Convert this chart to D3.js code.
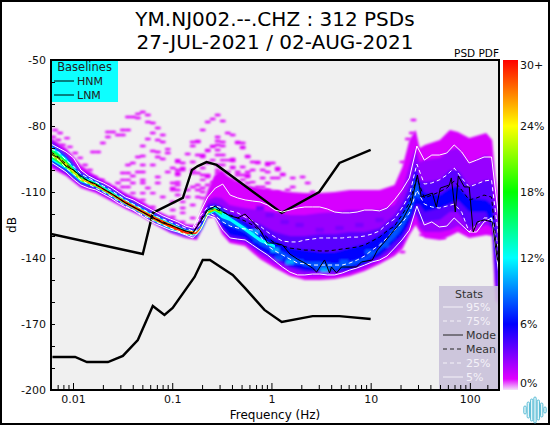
<!DOCTYPE html>
<html><head><meta charset="utf-8"><script src="https://cdn.jsdelivr.net/npm/d3@7"></script>
<style>html,body{margin:0;padding:0;background:#fff}svg{display:block}text{font-family:"DejaVu Sans",sans-serif}</style></head>
<body><svg id="c" width="550" height="425"></svg>
<script>
const titleLines=["YM.NJ002.--.CHZ : 312 PSDs","27-JUL-2021 / 02-AUG-2021"];
const yTickValues=[-50,-60,-70,-80,-90,-100,-110,-120,-130,-140,-150,-160,-170,-180,-190,-200];
const yTickLabelled=[-50,-80,-110,-140,-170,-200];
const xMajor=[0.01,0.1,1,10,100];
const xMinor=[0.006,0.007,0.008,0.009,0.02,0.03,0.04,0.05,0.06,0.07,0.08,0.09,0.2,0.3,0.4,0.5,0.6,0.7,0.8,0.9,2,3,4,5,6,7,8,9,20,30,40,50,60,70,80,90,150];
const colorTicks=[[30,"30+"],[24,"24%"],[18,"18%"],[12,"12%"],[6,"6%"],[0,"0%"]];
const colorStopPct=[0,1,6,12,18,24,30];
const colorStopCol=["#f4e4fa","#e000ff","#0000ff","#00ffff","#00ff00","#ffff00","#ff0000"];

const hnmFreq=[0.006,0.0505,0.0637,0.128,0.158,0.181,0.222,0.28,1.27,3.03,4.85,10];
const hnmDb=[-129.1,-138.2,-119.5,-112.7,-100,-98.2,-96.4,-97.7,-119.5,-110,-96.8,-90.9];
const lnmFreq=[0.0062,0.0105,0.0138,0.0225,0.0318,0.045,0.0637,0.0835,0.101,0.168,0.203,0.24,0.407,0.54,0.85,1.27,2.6,4.85,10];
const lnmDb=[-185,-185,-187.3,-187.3,-184.5,-177.3,-161.8,-165.9,-162.7,-148.6,-140.9,-140.9,-147.7,-153.6,-163.6,-169.1,-166.4,-166.4,-167.7];

const freqs=[0.006,0.00714,0.00849,0.0101,0.012,0.0143,0.017,0.0202,0.024,0.0285,0.0339,0.0404,0.048,0.0571,0.0679,0.0807,0.096,0.114,0.136,0.161,0.192,0.228,0.272,0.323,0.384,0.457,0.543,0.646,0.768,0.913,1.086,1.292,1.536,1.827,2.172,2.583,3.072,3.653,4.345,5.167,6.144,7.307,8.689,10.33,12.29,14.61,17.38,20.67,24.58,29.23,34.76,41.34,49.15,58.46,69.51,82.67,98.3,116.9,139,165.3,196.6];
const p95=[-88.2,-90,-91.8,-94.5,-100,-102.7,-104.5,-105.9,-107.7,-110,-112.3,-113.6,-115.5,-117.3,-119.1,-120.9,-122.3,-123.6,-125.5,-126.4,-119.1,-112.3,-108.2,-106.4,-111.4,-112.7,-113.6,-114.1,-114.5,-115.9,-118.2,-119.1,-118.2,-117.3,-116.8,-116.8,-116.8,-117.7,-119.1,-119.5,-119.5,-119.1,-118.2,-118.2,-118.6,-117.3,-113.6,-109.1,-103.6,-89.1,-95.5,-93.2,-93.2,-92.3,-88.6,-91.8,-96.8,-95.5,-94.1,-94.1,-122.7];
const p75=[-90.5,-91.8,-95.5,-98.2,-101.8,-103.6,-105.5,-107.3,-109.1,-111.4,-113.6,-115.5,-117.3,-119.1,-120.9,-122.3,-123.6,-125,-126.4,-127.7,-120.9,-116.8,-116.4,-117.3,-118.6,-119.5,-121.4,-123.2,-125.5,-128.2,-130.5,-132.3,-132.7,-132.7,-131.8,-131.4,-130.9,-130.9,-130.9,-130.9,-130.5,-130.5,-130,-129.1,-127.7,-124.5,-122.3,-117.3,-111.4,-97.3,-106.4,-105.9,-104.5,-102.3,-99.1,-103.6,-107.7,-106.4,-105,-104.5,-131.8];
const meanDb=[-91.8,-94.1,-97.3,-100,-103.2,-105,-106.8,-108.6,-110.5,-112.7,-115,-116.8,-118.6,-120.5,-122.3,-123.6,-125,-126.4,-127.7,-129.1,-122.7,-117.7,-117.7,-119.1,-120.5,-121.8,-123.2,-125,-127.7,-130.9,-133.2,-134.5,-135.5,-135.9,-136.4,-136.4,-136.8,-136.8,-136.4,-135.9,-135.5,-135,-134.1,-132.3,-130.5,-127.7,-125.5,-120.5,-115,-103.6,-112.7,-111.4,-110,-108.2,-105,-109.1,-113.6,-112.7,-111.4,-112.3,-145.5];
const p25=[-93.6,-95.5,-99.1,-101.8,-104.5,-106.4,-108.2,-110,-111.8,-114.1,-116.4,-118.2,-120,-121.8,-123.6,-125,-126.4,-127.7,-129.1,-130,-124.5,-119.1,-120.9,-123.6,-125.5,-126.4,-126.8,-127.3,-130,-134.5,-136.8,-138.6,-140.5,-142.3,-142.7,-143.2,-143.2,-143.2,-143.2,-143.2,-142.3,-140.9,-139.1,-136.4,-134.1,-130.9,-127.3,-124.1,-119.5,-109.1,-115.5,-116.8,-117.3,-116.4,-115.5,-119.1,-128.2,-125,-121.8,-121.8,-136.4];
const p5=[-96.4,-98.6,-100.9,-104.1,-106.8,-108.2,-109.1,-110.9,-112.7,-115,-116.8,-118.2,-120.5,-122.7,-124.5,-125.9,-127.3,-128.2,-129.5,-130.9,-127.3,-120.5,-121.8,-127.3,-130.9,-131.4,-131.8,-134.1,-136.4,-138.6,-141.4,-144.1,-146.4,-147.7,-147.7,-147.3,-147.3,-147.7,-147.7,-146.8,-145.5,-144.5,-143.2,-141.8,-140.9,-139.1,-135.5,-131.8,-127.3,-116.4,-125,-123.6,-125.9,-125.5,-121.8,-125,-128.2,-128.2,-123.6,-121.8,-147.7];
const modeFreq=[0.006,0.00714,0.00849,0.0101,0.012,0.0143,0.017,0.0202,0.024,0.0285,0.0339,0.0404,0.048,0.0571,0.0679,0.0807,0.096,0.114,0.136,0.161,0.192,0.228,0.272,0.323,0.384,0.457,0.543,0.646,0.768,0.913,1.086,1.292,1.536,1.827,2.172,2.583,2.85,3.43,3.85,4.03,4.53,5.08,7.2,8.08,10.4,11.7,13.8,20.9,25.7,29.6,32.4,41.9,45.9,50.4,62.1,65,71.3,76.4,87.9,98.6,108,118.6,139.6,168,189];
const modeDb=[-92.7,-94.5,-98.2,-100,-102.7,-105,-106.4,-108.6,-110.5,-112.7,-115,-116.8,-118.6,-120.5,-122.3,-124.1,-125,-126.4,-127.7,-128.6,-123.6,-118.2,-116.4,-119.1,-120.9,-121.8,-120,-123.6,-127.3,-133.2,-133.2,-134.1,-138.2,-140.5,-142.3,-144.5,-146.4,-140.9,-146.8,-144.1,-146.8,-144.1,-144.1,-141.8,-140.9,-136.4,-132.7,-122.7,-115,-102.3,-112.3,-110.5,-116.8,-108.2,-106.8,-103.6,-119.1,-102.7,-107.7,-107.7,-128.2,-123.6,-122.7,-123.6,-140.9];

// PDF contours: upper and lower dB of the region at or above each probability level
const contourFreq=[0.006,0.0085,0.012,0.017,0.024,0.034,0.048,0.068,0.096,0.136,0.177,0.203,0.228,0.268,0.316,0.38,0.54,0.768,1.086,1.54,2.17,3.07,4.35,6.14,8.69,12.3,17.4,20.9,24.6,28.4,31.2,35.1,49.8,62.9,75.7,98.6,146,168,180,194];
const contourPct=[1.2,2.6,4,6,8,12,16,21,25,29];
const c1Top=[-85.5,-90,-97.7,-102.7,-106.4,-110.5,-113.6,-118.2,-121.4,-124.5,-125,-115.9,-109.1,-102.3,-100,-103.6,-106.8,-108.2,-109.1,-110,-110.5,-110.5,-110,-109.1,-109.1,-109.1,-106.8,-98.6,-86.4,-81.8,-90,-88.6,-86.4,-81.8,-82.7,-85.5,-83.2,-86.4,-102.3,-113.6];
const c1Bot=[-99.1,-102.7,-108.2,-110.5,-114.1,-117.7,-120.9,-125,-128.6,-130.9,-131.8,-126.4,-121.8,-121.4,-129.1,-133.2,-134.5,-140.5,-144.5,-148.2,-150,-150,-149.5,-148.2,-145.9,-142.7,-139.1,-135.9,-129.5,-125,-128.2,-130.9,-131.8,-130,-128.2,-130.9,-129.5,-130,-159.1,-161.4];
const c2Top=[-85.9,-91.8,-100,-103.6,-107.7,-111.4,-115.5,-119.1,-122.3,-125.5,-126.4,-119.5,-113.6,-112.3,-112.7,-115.9,-117.3,-118.2,-119.1,-120.5,-120.5,-119.5,-119.1,-118.2,-118.2,-118.2,-115.9,-109.1,-97.7,-90,-96.4,-95.5,-94.5,-90.9,-90,-96.8,-93.2,-95.5,-111.4,-118.2];
const c2Bot=[-97.7,-101.8,-107.3,-109.5,-113.2,-116.8,-120.5,-124.5,-128.2,-130.5,-130.9,-126.4,-121.4,-120.9,-127.3,-131.8,-133.2,-138.6,-142.7,-146.4,-148.2,-148.2,-148.2,-146.8,-144.5,-141.4,-137.3,-134.1,-126.8,-120.5,-126.4,-128.2,-128.2,-127.3,-125.5,-128.2,-125,-126.4,-154.5,-159.1];
const c3Top=[-87.3,-92.7,-100.9,-104.1,-108.2,-112.3,-115.9,-119.5,-122.7,-125.9,-126.8,-120.9,-115.5,-115,-116.4,-119.1,-121.8,-124.5,-128.2,-130,-130,-129.1,-129.1,-128.2,-128.2,-126.4,-120.5,-115,-106.8,-95.5,-104.5,-105.5,-104.5,-100,-100,-107.3,-104.5,-104.5,-120.5,-127.3];
const c3Bot=[-97.3,-101.4,-106.8,-109.1,-112.7,-116.4,-120,-124.1,-127.7,-130,-130.5,-126.4,-120.9,-120.5,-125.9,-130.9,-132.3,-137.3,-140.9,-144.5,-146.4,-146.4,-146.4,-145.5,-143.2,-140,-135.5,-131.8,-125.5,-119.1,-123.6,-123.6,-122.7,-119.1,-119.1,-126.4,-122.7,-122.7,-150,-159.1];
const c4Top=[-87.7,-93.2,-101.4,-104.5,-108.6,-112.7,-116.4,-120,-123.2,-126.4,-127.3,-122.7,-116.8,-115.9,-117.3,-120.5,-123.6,-128.2,-131.8,-135.5,-136.4,-137.3,-137.3,-135.5,-133.6,-129.5,-124.5,-118.2,-111.4,-100,-106.8,-110.5,-111.4,-108.2,-107.3,-112.7,-113.6,-115.9,-129.5];
const c4Bot=[-96.8,-100.9,-106.4,-108.6,-112.3,-116.4,-120,-124.1,-127.7,-130,-130.5,-126.4,-120.9,-120,-125.5,-129.5,-130.9,-136.4,-140,-143.6,-145.5,-146.4,-146.4,-145.5,-142.7,-139.1,-132.7,-129.5,-123.6,-115.9,-115.9,-119.1,-117.3,-115.5,-113.6,-119.1,-119.1,-127.3,-145.5];
const c5Top=[-88.2,-93.6,-101.8,-105,-109.1,-113.2,-116.8,-120.5,-123.6,-126.8,-127.7,-124.1,-117.7,-116.4,-118.2,-120.9,-125.5,-130.9,-135.5,-139.1,-141.8,-141.8,-142.7,-141.8,-140,-135.5,-127.3,-120.5,-115,-103.6,-110];
const c5Bot=[-96.4,-100.5,-105.9,-108.2,-111.8,-115.9,-119.5,-123.6,-127.3,-130,-130,-125.9,-120.9,-119.5,-123.6,-125.5,-128.2,-134.1,-137.3,-140.9,-143.6,-144.5,-145.5,-143.6,-141.4,-136.8,-130.9,-126.4,-120.5,-111.4,-113.6];
const c6Top=[-89.1,-94.5,-102.7,-105.5,-109.5,-113.6,-117.3,-120.9,-124.1,-127.3,-127.7,-124.5,-118.2,-116.8,-118.6,-121.4,-125.9,-130.9,-134.1];
const c6Bot=[-95.5,-99.5,-105.5,-107.7,-111.8,-115.9,-119.5,-123.6,-126.8,-129.5,-129.5,-125.9,-120.5,-119.1,-121.8,-123.2,-127.7,-132.7,-135.5];
const c7Top=[-90,-95.5,-103.2,-105.9,-110,-114.1,-117.7,-121.4,-124.5,-127.7,-128.2,-125,-118.6,-117.3,-119.1];
const c7Bot=[-94.5,-99.1,-105,-107.7,-111.4,-115.5,-119.1,-123.2,-126.4,-129.1,-129.1,-125.5,-120,-118.6,-120.5];
const c8Top=[-91.4,-96.4,-103.6,-106.4,-110.2,-114.3,-118,-121.6,-124.8,-127.7,-128.2,-125,-118.9,-117.5,-119.3];
const c8Bot=[-93.6,-98.6,-105,-107.5,-111.4,-115.5,-119.1,-123,-126.1,-129.1,-129.1,-125.5,-119.8,-118.4,-119.8];
const c9Top=[-92.3,-97,-104.1,-106.4,-110.3,-114.1,-117.7,-121.4,-124.6,-127.5,-128,-125,-119.1,-117.7];
const c9Bot=[-92.7,-97.7,-104.5,-107.4,-111.3,-115.6,-119.3,-123.2,-126.3,-129.3,-129.2,-125.2,-119.5,-118.2];
const c10Top=[-92.5,-97.3,-104.3,-106.7,-110.5,-114.2,-117.9,-121.5,-124.7,-127.7,-128.2,-125,-119.2,-117.9];
const c10Bot=[-92.5,-97.3,-104.3,-107,-111.1,-115.5,-119.1,-123,-126.2,-129.1,-129.1,-125.1,-119.4,-118.1];

// isolated low-probability PDF cells: frequency, then the dB bins occupied at that frequency
const speckleFreq=[0.0063,0.0066,0.0071,0.0074,0.0079,0.0087,0.0093,0.0105,0.0118,0.0132,0.0148,0.0166,0.0159,0.0179,0.0196,0.02,0.022,0.0225,0.0253,0.0284,0.0318,0.0358,0.0401,0.0451,0.0505,0.0568,0.0637,0.0715,0.0803,0.0902,0.1012,0.1136,0.1276,0.1432,0.161,0.181,0.203,0.228,0.256,0.287,0.323,0.363,0.407,0.457,0.513,0.576,0.647,0.727,0.816,0.917,1.03,1.156,1.3,1.46,1.64,2.06,2.32,2.6,20.9,23.7,26,27,33,54];
const speckleDb=[[-85],[-81.8],[-86.4],[-83.2],[-88.6],[-85.5],[-89.5],[-92.3],[-94.5],[-97.7],[-100],[-103.2],[-91.8],[-91.8],[-104.5],[-87.7],[-106.8],[-85,-82.7],[-109.1,-108.2,-82.7],[-84.1,-105.9,-110],[-81.8,-84.1,-101.4,-104.5,-107.7],[-75.9,-81.8,-97.7,-101.4,-104.5,-107.7,-113.6],[-75.9,-96.8,-102.7,-105.9,-110.5],[-74.5,-76.4,-94.1,-100.9],[-73.6,-89.1,-93.6,-97.7,-100.9,-104.5,-105.9,-110.5,-113.6],[-75,-78.2,-85.9,-108.2],[-78.6,-83.2,-91.4,-97.7,-110.5,-116.8],[-80.9,-86.4,-91.8,-94.1,-103.2,-105.9],[-84.1,-87.3,-95,-112.3],[-90.5,-92.3,-100.9],[-99.1,-105.9,-108.2,-109.1,-114.5,-118.2,-121.4],[-95.5,-96.4,-100,-101.4,-102.3,-105.5,-106.8,-109.1,-111.4],[-96.8,-99.1,-100,-114.5,-117.3,-119.5,-123.6],[-92.7,-109.1,-112.3],[-87.3,-89.1,-96.4,-100,-101.4,-107.7,-115.9,-121.8],[-86.8,-87.3,-93.2,-101.4,-106.8,-109.1,-112.3],[-81.8,-93.2,-94.1,-99.1,-102.3,-104.5,-108.2,-110,-112.7],[-78.2,-90.9,-91.4,-96.8,-102.3,-103.2,-106.8],[-76.8,-89.1,-89.5,-95.5,-105.5],[-75,-85,-86.8,-88.6,-90.9,-93.2,-97.7,-100,-101.4,-104.1,-107.7],[-77.7,-87.3,-89.1,-93.2,-95.5,-97.7],[-83.2,-95.5,-100.9,-104.1,-105.9],[-84.1,-95,-95.9,-98.6,-99.1,-104.5,-108.2],[-87.3,-87.7,-100.9,-102.3,-105.9],[-87.7,-89.5,-90,-98.6,-102.3,-104.5,-107.7],[-93.6,-94.1,-100.9,-102.3,-103.2,-105.9,-109.1,-110,-111.4],[-96.4,-100,-105.5],[-96.4,-96.8,-107.7],[-100,-103.6,-107.7],[-96.8,-97.7,-100.9,-105.9,-109.1,-111.4],[-96.8,-103.6],[-99.1,-100,-103.6,-110,-110.5,-112.3],[-101.8,-102.3],[-109.1],[-103.6,-107.7],[-103.2],[-105.9],[-110],[-96.4,-137.3],[-85.9],[-83.2],[-77.3],[-129.5],[-130.9]];
// mottling inside the main body of the PDF
const mottleFreq=[1.92,3.07,4.85,7.7,1.36,12.3,0.96,0.768,1.92,3.07,5.4,9.7,13.8,17.4,0.727,1.2,0.68,1.086,1.54,3.43];
const mottleDb=[-125,-127.3,-126.4,-125,-123.6,-122.7,-120.5,-117.3,-141.8,-144.5,-141.8,-137.3,-134.1,-128.2,-131.8,-140,-128.2,-136.4,-141.8,-145.5];
const mottlePct=[3.3,3.3,3.3,3.3,3.3,3.3,3.3,3.3,8,8,8,8,8,8,8,8,10,10,10,10];

const statsLabels=["95%","75%","Mode","Mean","25%","5%"];
const legendLabels=["HNM","LNM"];
const logoHalfHeights=[4,8,11,13,10,7,3];

const W=550,H=425,L=51,R=499,T=60,B=390;
const x=d3.scaleLog().domain([0.006,196.6]).range([L,R]);
const y=d3.scaleLinear().domain([-50,-200]).range([T,B]);
const col=d3.scaleLinear().domain(colorStopPct).range(colorStopCol).clamp(true);
const cy=d3.scaleLinear().domain([0,30]).range([B,T]);
const svg=d3.select("#c");
svg.append("rect").attr("x",1).attr("y",1).attr("width",W-2).attr("height",H-2).attr("fill","#fff").attr("stroke","#000").attr("stroke-width",2);

const defs=svg.append("defs");
defs.append("clipPath").attr("id","plot").append("rect").attr("x",L).attr("y",T).attr("width",R-L).attr("height",B-T);
[["b0",0.9],["b1",0.85],["b2",0.45]].forEach(([id,s])=>defs.append("filter").attr("id",id).attr("filterUnits","userSpaceOnUse").attr("x",0).attr("y",0).attr("width",W).attr("height",H).append("feGaussianBlur").attr("stdDeviation",s));
const grad=defs.append("linearGradient").attr("id","cb").attr("x1",0).attr("x2",0).attr("y1",1).attr("y2",0);
colorStopPct.forEach((p,i)=>grad.append("stop").attr("offset",p/30).attr("stop-color",colorStopCol[i]));

svg.append("rect").attr("x",L).attr("y",T).attr("width",R-L).attr("height",B-T).attr("fill","#f0f0f0");
const plot=svg.append("g").attr("clip-path","url(#plot)");

const area=d3.area().x(d=>x(d[0])).y0(d=>y(d[2])).y1(d=>y(d[1]));
const contours=[[c1Top,c1Bot],[c2Top,c2Bot],[c3Top,c3Bot],[c4Top,c4Bot],[c5Top,c5Bot],[c6Top,c6Bot],[c7Top,c7Bot],[c8Top,c8Bot],[c9Top,c9Bot],[c10Top,c10Bot]];
const speckles=speckleFreq.flatMap((f,i)=>speckleDb[i].map(d=>[f,d]));
plot.append("g").attr("filter","url(#b0)").selectAll("rect").data(speckles).join("rect")
  .attr("x",d=>x(d[0]/1.07)).attr("width",d=>x(d[0]*1.07)-x(d[0]/1.07)).attr("y",d=>y(d[1]+0.55)).attr("height",d=>y(d[1]-0.55)-y(d[1]+0.55)).attr("rx",1).attr("fill",col(1));
const lowG=plot.append("g").attr("filter","url(#b1)");
contours.slice(0,5).forEach(([t,b],i)=>lowG.append("path").attr("d",area(d3.zip(contourFreq.slice(0,t.length),t,b))).attr("fill",col(contourPct[i])));
lowG.selectAll("rect").data(d3.zip(mottleFreq,mottleDb,mottlePct)).join("rect")
  .attr("x",d=>x(d[0]/1.1)).attr("width",d=>x(d[0]*1.1)-x(d[0]/1.1)).attr("y",d=>y(d[1]+1)).attr("height",d=>y(d[1]-1)-y(d[1]+1)).attr("fill",d=>col(d[2]));
const hiG=plot.append("g").attr("filter","url(#b2)");
contours.slice(5).forEach(([t,b],i)=>hiG.append("path").attr("d",area(d3.zip(contourFreq.slice(0,t.length),t,b))).attr("fill",col(contourPct[i+5])));

const line=d3.line().x(d=>x(d[0])).y(d=>y(d[1]));
[[hnmFreq,hnmDb],[lnmFreq,lnmDb]].forEach(([f,d])=>plot.append("path").attr("d",line(d3.zip(f,d))).attr("fill","none").attr("stroke","#000").attr("stroke-width",2.4));
[[p95,"#fff",null],[p75,"#fff","4,3"],[p25,"#fff","4,3"],[p5,"#fff",null],[meanDb,"#000","4,3"]].forEach(([d,c,da])=>
  plot.append("path").attr("d",line(d3.zip(freqs,d))).attr("fill","none").attr("stroke",c).attr("stroke-width",1).attr("stroke-dasharray",da));
plot.append("path").attr("d",line(d3.zip(modeFreq,modeDb))).attr("fill","none").attr("stroke","#000").attr("stroke-width",1);

// Baselines legend
const lg=svg.append("g");
lg.append("rect").attr("x",L).attr("y",T+1).attr("width",67).attr("height",41).attr("fill","#00ffff").attr("fill-opacity",0.95);
lg.append("text").attr("x",L+33.5).attr("y",T+11).attr("text-anchor","middle").attr("font-size",11.5).attr("fill","#222").text("Baselines");
legendLabels.forEach((t,i)=>{const yy=T+21+i*14;
  lg.append("line").attr("x1",54).attr("x2",74).attr("y1",yy).attr("y2",yy).attr("stroke","#000").attr("stroke-width",1);
  lg.append("text").attr("x",77).attr("y",yy+4).attr("font-size",11).attr("fill","#222").text(t);});

// Stats legend
const sg=svg.append("g");
sg.append("rect").attr("x",439).attr("y",286).attr("width",60).attr("height",104).attr("fill","#c9c1d9").attr("fill-opacity",0.9);
sg.append("text").attr("x",469).attr("y",298).attr("text-anchor","middle").attr("font-size",11).attr("fill","#333").text("Stats");
const statCol=["#f4f1f8","#f4f1f8","#222","#222","#f4f1f8","#f4f1f8"],statDash=[null,"4,3",null,"4,3","4,3",null];
statsLabels.forEach((t,i)=>{const yy=307+i*14;
  sg.append("line").attr("x1",443).attr("x2",463).attr("y1",yy).attr("y2",yy).attr("stroke",statCol[i]).attr("stroke-width",1).attr("stroke-dasharray",statDash[i]);
  sg.append("text").attr("x",466).attr("y",yy+4).attr("font-size",11).attr("fill",statCol[i]==="#222"?"#333":"#f4f1f8").text(t);});

// Axes
const ax=svg.append("g");
const yAx=d3.axisLeft(y).tickValues(yTickValues).tickSize(-4).tickPadding(5).tickFormat(d=>yTickLabelled.includes(d)?d:"");
ax.append("g").attr("transform",`translate(${L},0)`).call(yAx);
const xMin=d3.axisBottom(x).tickValues(xMinor).tickSize(-5).tickFormat("");
ax.append("g").attr("transform",`translate(0,${B})`).call(xMin);
const xMaj=d3.axisBottom(x).tickValues(xMajor).tickSize(-7).tickPadding(5).tickFormat(d=>String(d));
ax.append("g").attr("transform",`translate(0,${B})`).call(xMaj);
ax.selectAll(".domain").remove();
ax.selectAll("text").attr("font-size",11).attr("font-family","DejaVu Sans").attr("fill","#111");
ax.selectAll("line").attr("stroke","#000");
svg.append("rect").attr("x",L).attr("y",T).attr("width",R-L).attr("height",B-T).attr("fill","none").attr("stroke","#000").attr("stroke-width",2);

// Titles
titleLines.forEach((t,i)=>svg.append("text").attr("x",275).attr("y",26+i*22.5).attr("text-anchor","middle").attr("font-size",20).attr("fill","#000").text(t));
svg.append("text").attr("x",499).attr("y",57).attr("text-anchor","end").attr("font-size",10.5).attr("fill","#000").text("PSD PDF");
svg.append("text").attr("x",275).attr("y",419).attr("text-anchor","middle").attr("font-size",12).text("Frequency (Hz)");
svg.append("text").attr("transform","translate(16,225) rotate(-90)").attr("text-anchor","middle").attr("font-size",12).text("dB");

// Colour bar
svg.append("rect").attr("x",503).attr("y",T).attr("width",15).attr("height",B-T).attr("fill","url(#cb)");
colorTicks.forEach(([p,t])=>{const o=p===30?5:p===0?-7:0;
  svg.append("text").attr("x",520).attr("y",cy(p)+o+4).attr("font-size",11).attr("fill","#111").text(t);});

// Logo
const logoX=d3.scaleLinear().domain([0,logoHalfHeights.length-1]).range([525,545]);
svg.append("g").selectAll("rect").data(logoHalfHeights).join("rect").attr("x",(d,i)=>logoX(i)-1.2).attr("width",2.4)
  .attr("y",d=>410-d).attr("height",d=>2*d).attr("rx",1.2).attr("fill","#e6f6fa").attr("stroke","#5bbdd6").attr("stroke-width",1);
</script></body></html>
